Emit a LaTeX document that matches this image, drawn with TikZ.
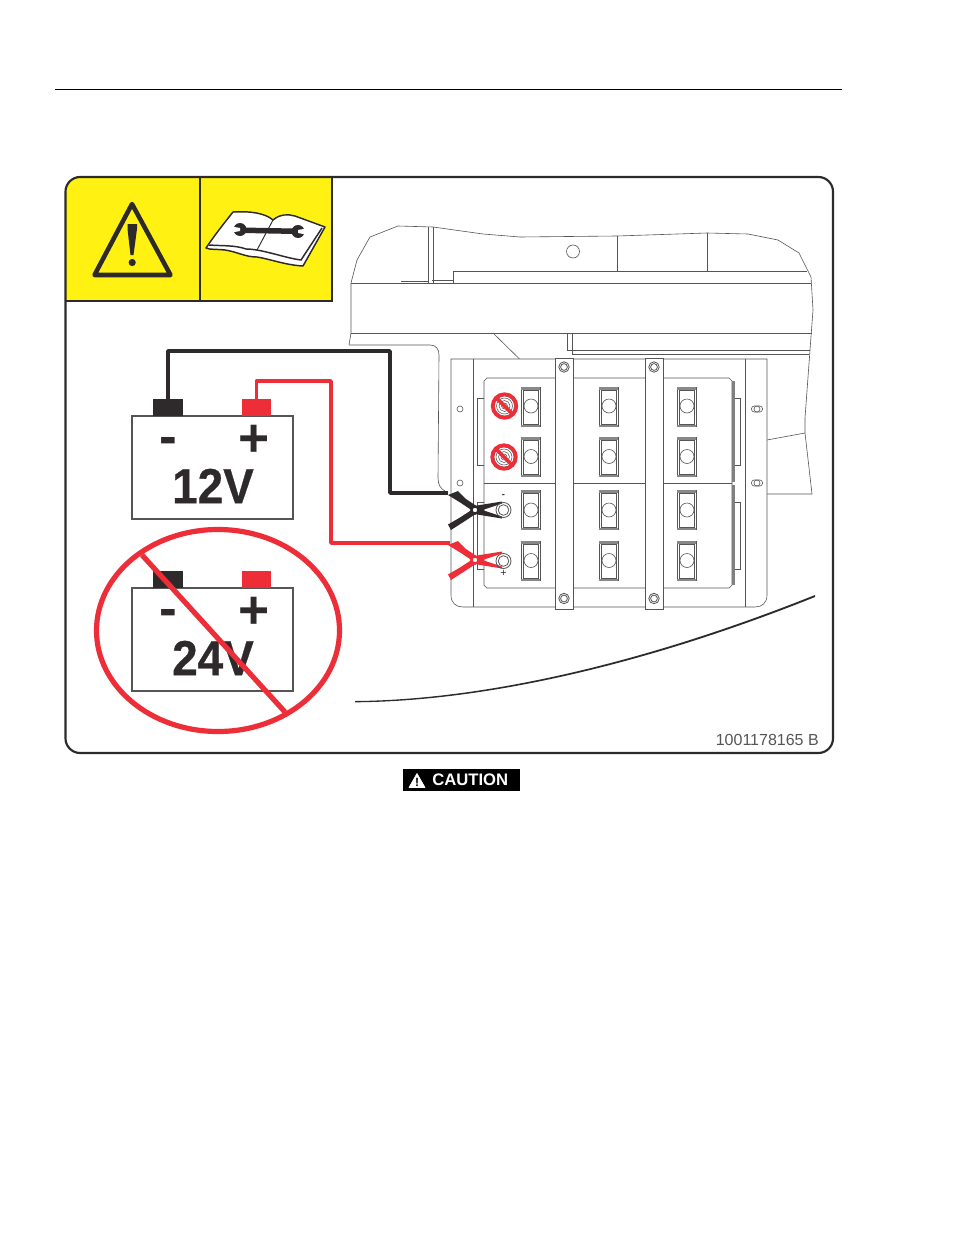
\documentclass[tikz,border=0pt]{standalone}
\usepackage{fontspec}
\setmainfont{Liberation Sans}
\newfontfamily\heavyfont[FakeBold=0.6]{Liberation Sans Bold}
\definecolor{wred}{HTML}{ED2E38}
\definecolor{wblack}{HTML}{2E2A2B}
\definecolor{wyellow}{HTML}{FFF212}
\definecolor{wline}{HTML}{555555}
\tikzset{
  thin line/.style={draw=wline,line width=0.45pt},
  battery/.style={draw=wline,line width=1pt,fill=white,minimum width=120.75pt,minimum height=77.25pt,inner sep=0pt},
  terminal/.style={minimum width=22pt,minimum height=12.75pt,inner sep=0pt},
  volt/.style={font=\fontsize{37}{37}\heavyfont,text=wblack,inner sep=0pt},
  sign/.style={font=\fontsize{40}{40}\selectfont\bfseries,text=wblack,inner sep=0pt},
  cable/.style={line width=2.6pt,line join=round},
  nosign/.style={draw=wred,line width=2.8pt},
}
\begin{document}
\begin{tikzpicture}[x=0.75pt,y=-0.75pt]
\useasboundingbox (0,0) rectangle (954,1235);
\fill[white] (0,0) rectangle (954,1235);
% header rule
\coordinate (ruleL) at (55,89.5); \coordinate (ruleR) at (842,89.5);
\draw[black,line width=0.75pt] (ruleL) -- (ruleR);
% yellow panel
\fill[wyellow] (66,301) -- (66,191) .. controls (66,183) and (72,177) .. (80,177) -- (332,177) -- (332,301) -- cycle;
\draw[wblack,line width=1.5pt] (66,301) -- (332,301) -- (332,177);
\draw[wblack,line width=1.5pt] (199.5,177) -- (199.5,301);
% frame
\draw[wblack,line width=1.6pt,rounded corners=11pt] (65.5,177) rectangle (833,753);
% warning triangle
\draw[wblack,line width=3.4pt,line join=round] (132,204) -- (94.5,275) -- (170.5,275) -- cycle;
\fill[wblack] (127.5,224) -- (127.5,229) -- (130.5,255) -- (133.5,255) -- (137,229) -- (137,224) -- cycle;
\fill[wblack] (132.2,262.5) circle (3.6);
% book
\filldraw[fill=white,draw=wblack,line width=1.1pt,line join=round]
  (206,248) .. controls (214,236) and (225,222) .. (233,212)
  .. controls (250,211) and (265,213) .. (273,220)
  .. controls (280,214) and (288,214) .. (295,216)
  -- (325,227) -- (303,266)
  .. controls (285,265) and (270,259) .. (257,257)
  .. controls (245,257) and (238,252) .. (225,250)
  .. controls (218,249) and (210,250) .. (206,248) -- cycle;
\draw[wblack,line width=1.1pt] (209,245) .. controls (222,246) and (235,245) .. (246,249)
  .. controls (262,249) and (285,258) .. (301,260) -- (322,228);
\draw[wblack,line width=0.7pt] (273,220) -- (257,250);
\fill[wblack] (243,227.5) -- (294,228.5) -- (294,234) -- (243,233) -- cycle;
\fill[wblack] (240,229.5) circle (6.5);
\fill[wblack] (298,231.5) circle (6.5);
\fill[white] (232,226.5) -- (240,228) -- (240,231) -- (232,232.5) -- cycle;
\fill[white] (306,228.5) -- (298,230) -- (298,233) -- (306,234.5) -- cycle;
% machine outline
\draw[thin line] (349,345) -- (351,333) -- (351,283) -- (357,260) -- (370,237) -- (398,226) -- (433,227) -- (483,234) -- (520,237) -- (617,236) -- (707,233) -- (748,234) -- (778,240) -- (799,253) -- (811,277) -- (813,310) -- (810,350) -- (805,418) -- (805,433) -- (812,494) -- (767,494);
\draw[thin line] (767,440) -- (805,433);
\draw[thin line] (351,283) -- (811,283);
\draw[thin line] (351,333) -- (812,333);
\draw[thin line] (428,226.5) -- (428,283);
\draw[thin line] (433,227) -- (433,283);
\draw[thin line] (453,283) -- (453,271) -- (807,271);
\draw[thin line] (617,236) -- (617,270.5);
\draw[thin line] (707,233) -- (707,270.5);
\draw[thin line] (401,281.5) -- (428,281.5);
\draw[thin line] (432,280) -- (453,280);
\draw[thin line] (573,251.5) circle (6.5);
\draw[thin line] (493,333) -- (520,359.5);
\draw[thin line] (567,333) -- (567,350) -- (810,350);
\draw[thin line] (572,333) -- (572,354.5) -- (809,354.5);
\draw[thin line] (349,345) -- (430,345) .. controls (436,345) and (439,349) .. (439,355) -- (438,478) .. controls (438,485) and (441,489) .. (445,491);
% tray
\filldraw[fill=white,draw=wline,line width=0.45pt] (451,359) -- (767,359) -- (767,595) .. controls (767,603) and (762,607) .. (755,607) -- (463,607) .. controls (456,607) and (451,603) .. (451,595) -- cycle;
\draw[thin line] (473,359) -- (473,607);
\draw[thin line] (745,359) -- (745,607);
% batteries
\draw[thin line] (484,483) -- (484,381) -- (487,378) -- (729,378) -- (732,381) -- (732,483);
\draw[thin line] (484,483) -- (484,585) -- (487,588) -- (729,588) -- (732,585) -- (732,483);
\draw[wline,line width=0.9pt] (484,483.5) -- (732,483.5);
% side tabs
\foreach \ya/\yb in {398/465,502/569}{
  \draw[thin line] (484,\ya) -- (477,\ya) -- (477,\yb) -- (484,\yb);
  \draw[thin line] (734,\ya) -- (740,\ya) -- (740,\yb) -- (734,\yb);
}
\fill[wline!75] (732,381) rectangle (734.5,482);
\fill[wline!75] (732,485) rectangle (734.5,585);
% battery terminals
\foreach \xx in {521,599,677}{
  \foreach \yy/\yc in {387/406,437/456.5,490/510,541/560.5}{
    \draw[thin line] (\xx,\yy) rectangle ++(19,39.5);
    \draw[thin line] (\xx+2,\yy+3) rectangle ++(15,34);
    \fill[wline!70] (\xx,\yy) rectangle ++(19,2.5);
    \fill[wline!70] (\xx,\yy+38) rectangle ++(19,1.5);
    \draw[thin line,fill=white] (\xx+10,\yc) circle (7);
  }
}
% straps
\foreach \xx in {555,645}{
  \filldraw[fill=white,draw=wline,line width=0.45pt] (\xx,358) rectangle (\xx+18,609);
  \foreach \yy in {367,598.5}{
    \draw[wline,line width=0.6pt] (\xx+9,\yy) circle (5.2);
    \draw[wline,line width=0.6pt] (\xx+9,\yy) circle (3.4);
  }
}
% tray holes
\draw[thin line] (460,409) circle (3);
\draw[thin line] (460,483) circle (3);
\foreach \yy in {409,483}{
  \draw[thin line,rounded corners=2pt] (751.5,\yy-3) rectangle (762.5,\yy+3);
  \draw[thin line] (757,\yy) circle (3);
}
% forbidden posts
\foreach \xx/\yy in {504.5/406,504/457}{
  \foreach \r in {3,5.5,8,10}{\draw[wline,line width=0.4pt] (\xx,\yy) circle (\r);}
  \draw[nosign] (\xx,\yy) circle (11.8);
  \draw[nosign] (\xx-8.4,\yy-8.4) -- (\xx+8.4,\yy+8.4);
}
% post labels
\node[inner sep=0pt,font=\fontsize{7}{7}\selectfont\bfseries,text=wblack] (minuslabel) at (503.5,496.5) {-};
\node[inner sep=0pt,font=\fontsize{8}{8}\selectfont,text=wblack] (pluslabel) at (503.5,573) {+};
% clamps
\coordinate (clampA) at (475,510);
\coordinate (clampB) at (475,560);
\coordinate (gripA) at (448,493);
\coordinate (gripB) at (450,543);
\foreach \cc/\yy in {wblack/510,wred/560}{
  \begin{scope}[shift={(475,\yy)}]
    % upper handle
    \fill[\cc] (-27,-15) -- (-17,-19) -- (-9,-11) -- (3,-3) -- (-2,1) -- (-14,-7) -- cycle;
    % lower handle
    \fill[\cc] (-27,14.5) -- (-15,7.5) -- (-2,-1) -- (2,3) -- (-10,11) -- (-24,20) -- cycle;
    % jaws
    \fill[\cc] (2,-4.5) -- (27,-8.5) -- (27,-6.5) -- (9,-0.5) -- (9,0.5) -- (27,6.5) -- (27,8.5) -- (2,4.5) -- cycle;
    \filldraw[fill=white,draw=\cc,line width=1.8pt] (0,0) circle (3.6);
  \end{scope}
}
% live posts
\foreach \yy in {510,561}{
  \draw[wline,line width=0.6pt] (503.5,\yy) circle (7.5);
  \draw[wline,line width=0.6pt,fill=white] (503.5,\yy) circle (5.3);
}
% batteries on the left
\node[battery] (bat12) at (212.5,467.5) {};
\node[battery] (bat24) at (212.5,639.5) {};
\node[terminal,fill=wblack] (neg12) at (168,407.5) {};
\node[terminal,fill=wred] (pos12) at (256.5,407.5) {};
\node[terminal,fill=wblack] (neg24) at (168,579.5) {};
\node[terminal,fill=wred] (pos24) at (256.5,579.5) {};
\node[sign] (m12) at (168,446) {-};
\node[sign] (p12) at (254,441) {+};
\node[sign] (m24) at (168,618) {-};
\node[sign] (p24) at (254,613) {+};
\node[volt] (t12) at (213,486) {\scalebox{0.93}[1]{12V}};
\node[volt] (t24) at (213,658) {\scalebox{0.93}[1]{24V}};
% cables
\draw[wblack,cable] (neg12.north) -- (168,351) -- (390,351) -- (390,493) -- (gripA);
\draw[wred,cable] (pos12.north) -- (256.5,381) -- (331,381) -- (331,543) -- (gripB);
% no-24V sign
\draw[wred,line width=3.9pt] (218,630.5) circle[x radius=121.5,y radius=101];
\draw[wred,line width=3.9pt] (142,555) -- (285,712);
% curve
\fill[wblack] (355,701) .. controls (480,700) and (640,665) .. (815,595)
  -- (815,597) .. controls (640,667) and (480,701.5) .. (355,702.3) -- cycle;
% part number
\node[anchor=east,inner sep=0pt,font=\fontsize{12}{12}\selectfont,text=wline] (part) at (819,739.5) {1001178165 B};
% caution
\node[fill=black,minimum width=87.75pt,minimum height=16.5pt,inner sep=0pt] (cbox) at (461.5,780) {};
\fill[white,line join=round,draw=white,line width=0.5pt] (417,773.5) -- (409,787.5) -- (425,787.5) -- cycle;
\node[inner sep=0pt,font=\fontsize{9}{9}\selectfont\bfseries,text=black] (bang) at (417,782.5) {!};
\node[anchor=west,inner sep=0pt,font=\fontsize{12.5}{12.5}\selectfont\bfseries,text=white] (ctext) at (432,780) {CAUTION};
\end{tikzpicture}
\end{document}
